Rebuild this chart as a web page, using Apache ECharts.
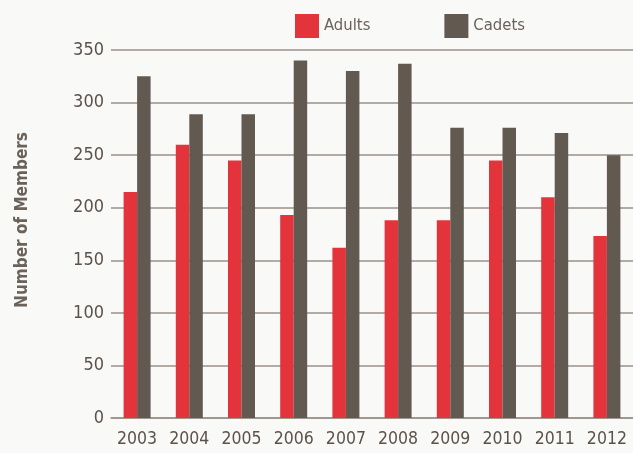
<!DOCTYPE html>
<html>
<head>
<meta charset="utf-8">
<script src="https://cdn.jsdelivr.net/npm/echarts@6/dist/echarts.min.js"></script>
<style>
  html, body { margin: 0; padding: 0; background: #f9f9f8; }
  #chart { width: 633px; height: 453px; }
</style>
</head>
<body>
<div id="chart"></div>
<script>
  const years = ["2003", "2004", "2005", "2006", "2007", "2008", "2009", "2010", "2011", "2012"];
  const adults = [215, 260, 245, 193, 162, 188, 188, 245, 210, 173];
  const cadets = [325, 289, 289, 340, 330, 337, 276, 276, 271, 250];

  const red = "#e3343c", brown = "#625a50", textCol = "#5b524a";
  const font = "'DejaVu Sans Condensed', 'Liberation Sans Narrow', sans-serif";

  const chart = echarts.init(document.getElementById("chart"));
  chart.setOption({
    backgroundColor: "#f9f9f8",
    animation: false,
    textStyle: {fontFamily: font},
    legend: {
      left: 290,
      top: 9,
      itemWidth: 24,
      itemHeight: 24,
      itemGap: 74,
      icon: "rect",
      textStyle: {color: "#6b625a", fontSize: 16.5, fontFamily: font},
      data: ["Adults", "Cadets"]
    },
    // axis title placed by hand so it sits where the original has it
    graphic: [{
      type: "text",
      x: 23,
      y: 220,
      rotation: Math.PI / 2,
      style: {
        text: "Number of Members",
        fill: "#6b625a",
        font: "bold 17px " + font,
        align: "center",
        verticalAlign: "middle"
      }
    }],
    grid: {left: 111, right: 0, top: 50, bottom: 35, containLabel: false},
    xAxis: {
      type: "category",
      data: years,
      axisTick: {show: false},
      axisLine: {show: true, lineStyle: {color: "#9a918a", width: 1.5}},
      axisLabel: {color: textCol, fontSize: 17.5, margin: 12, interval: 0, fontFamily: font}
    },
    yAxis: {
      type: "value",
      min: 0,
      max: 350,
      interval: 50,
      axisLine: {show: false},
      axisTick: {show: false},
      axisLabel: {color: textCol, fontSize: 18, margin: 7, fontFamily: font},
      splitLine: {lineStyle: {color: "#9a918a", width: 1.5}}
    },
    series: [
      {name: "Adults", type: "bar", data: adults, barWidth: 13.5, barGap: "0%", itemStyle: {color: red}},
      {name: "Cadets", type: "bar", data: cadets, barWidth: 13.5, barGap: "0%", itemStyle: {color: brown}}
    ]
  });
</script>
</body>
</html>
